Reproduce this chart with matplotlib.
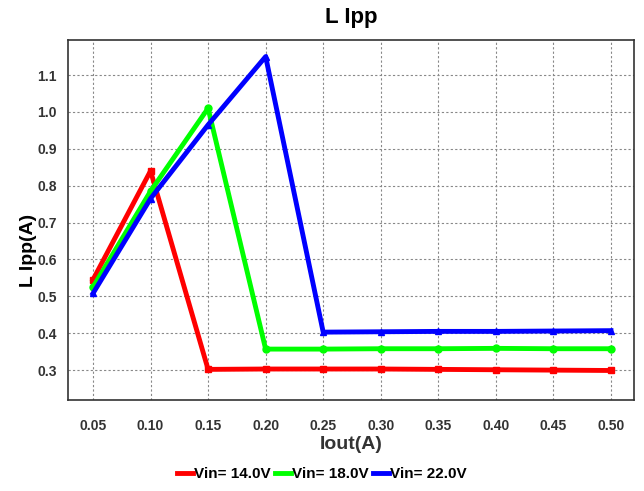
import matplotlib
matplotlib.use("Agg")
import matplotlib.pyplot as plt

plt.rcParams['font.family'] = ['Liberation Sans', 'DejaVu Sans']

iout = [0.05, 0.10, 0.15, 0.20, 0.25, 0.30, 0.35, 0.40, 0.45, 0.50]
vin14 = [0.545, 0.840, 0.302, 0.303, 0.303, 0.303, 0.302, 0.301, 0.300, 0.299]
vin18 = [0.525, 0.785, 1.010, 0.357, 0.357, 0.358, 0.358, 0.359, 0.358, 0.358]
vin22 = [0.508, 0.765, 0.965, 1.150, 0.403, 0.404, 0.405, 0.405, 0.406, 0.407]
series = [("Vin= 14.0V", vin14, "#ff0000", "s"),
          ("Vin= 18.0V", vin18, "#00ff00", "o"),
          ("Vin= 22.0V", vin22, "#0000ff", "^")]
yticks = [0.3, 0.4, 0.5, 0.6, 0.7, 0.8, 0.9, 1.0, 1.1]

fig = plt.figure(figsize=(6.44, 4.91), dpi=100)
ax = fig.add_axes([68/644, 1 - 400/491, (634-68)/644, (400-40)/491])

for label, vals, col, mk in series:
    ax.plot(iout, vals, color=col, lw=3.5, marker=mk, ms=5, label=label)

ax.set_xlim(0.0283, 0.52)
ax.set_ylim(0.219, 1.195)
ax.set_xticks(iout)
ax.set_xticklabels(["%.2f" % v for v in iout])
ax.set_yticks(yticks)
ax.set_yticklabels(["%.1f" % v for v in yticks])
ax.tick_params(length=0, labelsize=10, labelcolor="#333333", pad=8)
for lab in ax.get_xticklabels() + ax.get_yticklabels():
    lab.set_fontweight("bold")
ax.tick_params(axis='x', pad=14)
ax.grid(True, ls=(0, (2, 2)), color="#888888", lw=0.8)
for s in ax.spines.values():
    s.set_color("#333333")
    s.set_linewidth(1.2)

ax.set_title("L Ipp", fontsize=16, fontweight="bold", pad=12)
ax.set_xlabel("Iout(A)", fontsize=14, fontweight="bold", color="#333333", labelpad=2)
ax.set_ylabel("L Ipp(A)", fontsize=14, fontweight="bold", color="black")
ax.yaxis.set_label_coords(-0.055, 0.415)

leg = fig.legend(*ax.get_legend_handles_labels(), loc="center",
                 bbox_to_anchor=(0.5, 1 - 474/491), ncol=3, frameon=False,
                 handlelength=1.0, handletextpad=0.1, columnspacing=0.3,
                 prop={"weight": "bold", "size": 11})
for h in leg.legend_handles:
    h.set_marker("")

fig.savefig("out.png", dpi=100)
